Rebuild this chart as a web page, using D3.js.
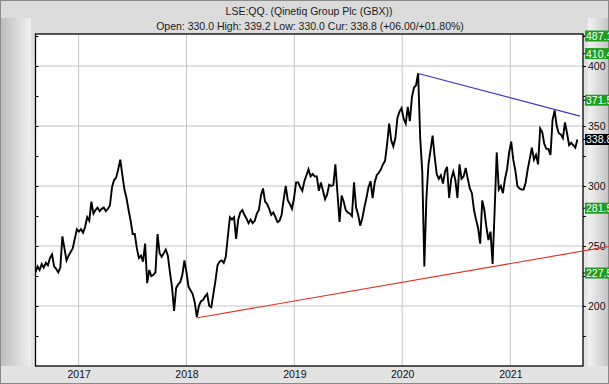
<!DOCTYPE html>
<html>
<head>
<meta charset="utf-8">
<script src="https://cdn.jsdelivr.net/npm/d3@7"></script>
<style>
body { margin: 0; background: #fff; }
svg { display: block; font-family: "Liberation Sans", Arial, sans-serif; }
</style>
</head>
<body>
<svg id="chart" width="609" height="384"></svg>
<script>
// weekly prices (GBX), first week starting 2016-08-08
var firstWeek = "2016-08-08";
var prices = [
	228, 233, 230, 235, 232, 236, 234, 240, 243, 233, 231, 228, 232, 258, 248, 238, 242, 245, 248, 256,
	264, 262, 264, 261, 266, 274, 271, 287, 277, 280, 282, 279, 281, 282, 279, 281, 284, 299, 305, 307,
	314, 322, 309, 297, 290, 280, 271, 260, 260, 248, 240, 242, 237, 252, 219, 230, 225, 226, 228, 260,
	244, 241, 244, 247, 242, 228, 216, 196, 215, 218, 220, 226, 238, 228, 216, 213, 210, 203, 191, 200,
	204, 205, 208, 210, 200, 199, 210, 221, 234, 237, 238, 236, 241, 258, 274, 272, 274, 256, 272, 278,
	280, 276, 273, 269, 272, 269, 271, 277, 280, 292, 298, 287, 285, 281, 276, 278, 274, 270, 271, 276,
	289, 300, 288, 285, 281, 290, 303, 303, 299, 296, 304, 309, 314, 308, 310, 308, 308, 296, 303, 296,
	289, 293, 301, 300, 301, 318, 294, 270, 292, 287, 280, 278, 277, 275, 303, 282, 276, 267, 273, 282,
	290, 299, 304, 290, 303, 309, 311, 314, 318, 321, 335, 352, 338, 333, 340, 357, 362, 365, 356, 352,
	366, 354, 374, 382, 384, 394, 340, 312, 233, 290, 318, 330, 342, 324, 310, 306, 309, 302, 312, 316,
	290, 306, 312, 305, 290, 318, 306, 308, 315, 306, 298, 294, 280, 272, 265, 252, 288, 280, 266, 255,
	262, 235, 280, 328, 297, 300, 294, 306, 314, 328, 337, 322, 313, 300, 298, 297, 297, 303, 314, 323,
	332, 322, 326, 318, 348, 345, 335, 331, 331, 326, 355, 363, 350, 344, 343, 340, 353, 344, 334, 336,
	334, 332, 338.8
];

var xStart = "2016-08-08";
var xEnd = "2021-09-04";
var yearLabels = ["2017", "2018", "2019", "2020", "2021"];
var gridValues = [200, 250, 300, 350, 400];
var minorValues = [175, 200, 225, 250, 275, 300, 325, 350, 375, 400, 425];

// resistance (blue) and support (red) trend lines
var blueDates = ["2020-02-21", "2021-08-25"];
var blueValues = [394, 358.3];
var redDates = ["2018-02-03", "2021-12-01"];
var redValues = [190, 249.6];

// price markers on the right edge
var markerText = ["487.1", "410.4", "371.5", "338.8", "281.5", "227.5"];
var markerValues = [487.1, 410.4, 371.5, 338.8, 281.5, 227.5];
var markerFill = ["#1e9e1e", "#1e9e1e", "#1e9e1e", "#000000", "#1e9e1e", "#1e9e1e"];

var titleText = "LSE:QQ. (Qinetiq Group Plc (GBX))";
var infoText = "Open: 330.0 High: 339.2 Low: 330.0 Cur: 338.8 (+06.00/+01.80%)";

var W = 609, H = 384;
var plot = {left: 35.5, right: 583, top: 34, bottom: 366};
var parse = d3.utcParse("%Y-%m-%d");

var x = d3.scaleUtc()
	.domain([parse(xStart), parse(xEnd)])
	.range([plot.left, plot.right]);
var y = d3.scaleLinear()
	.domain([150, 426.7])
	.range([plot.bottom, plot.top]);

var svg = d3.select("#chart");
var defs = svg.append("defs");

function gradient(id, x1, y1, x2, y2, stops) {
	var g = defs.append("linearGradient").attr("id", id)
		.attr("x1", x1).attr("y1", y1).attr("x2", x2).attr("y2", y2);
	stops.forEach(function (s) {
		g.append("stop").attr("offset", s[0]).attr("stop-color", s[1]);
	});
}
gradient("bgV", 0, 0, 0, 1, [[0, "#dadada"], [0.5, "#e9e9e9"], [1, "#e2e2e2"]]);
gradient("bgL", 0, 0, 1, 0, [[0, "#bdbdbd"], [1, "#f0f0f0"]]);
gradient("bgR", 0, 0, 1, 0, [[0, "#f2f2f2"], [1, "#c6c6c6"]]);

// frame
svg.append("rect").attr("width", W).attr("height", H).attr("fill", "#8a8a8a");
svg.append("rect").attr("x", 1).attr("y", 1).attr("width", W - 2).attr("height", H - 2).attr("fill", "url(#bgV)");
svg.append("rect").attr("x", 1).attr("y", 18).attr("width", 30).attr("height", H - 36).attr("fill", "url(#bgL)");
svg.append("rect").attr("x", 588).attr("y", 18).attr("width", 20).attr("height", H - 36).attr("fill", "url(#bgR)");

// titles
svg.append("text").attr("x", 309).attr("y", 15).attr("text-anchor", "middle")
	.attr("font-size", 10.5).attr("fill", "#1a1a1a").text(titleText);
svg.append("text").attr("x", 310).attr("y", 30).attr("text-anchor", "middle")
	.attr("font-size", 10.5).attr("fill", "#1a1a1a").text(infoText);

// plot background
svg.append("rect")
	.attr("x", plot.left).attr("y", plot.top)
	.attr("width", plot.right - plot.left).attr("height", plot.bottom - plot.top)
	.attr("fill", "#fff");

var years = yearLabels.map(function (s) { return parse(s + "-01-01"); });

// grid
svg.append("g").selectAll("line").data(years).enter().append("line")
	.attr("x1", function (d) { return x(d); }).attr("x2", function (d) { return x(d); })
	.attr("y1", plot.top).attr("y2", plot.bottom)
	.attr("stroke", "#c4c4c4").attr("stroke-width", 1);
svg.append("g").selectAll("line").data(gridValues).enter().append("line")
	.attr("x1", plot.left).attr("x2", plot.right)
	.attr("y1", function (d) { return y(d); }).attr("y2", function (d) { return y(d); })
	.attr("stroke", "#c4c4c4").attr("stroke-width", 1);

// price line
var clip = defs.append("clipPath").attr("id", "plotClip");
clip.append("rect").attr("x", plot.left).attr("y", plot.top)
	.attr("width", plot.right - plot.left).attr("height", plot.bottom - plot.top);

var t0 = parse(firstWeek);
var series = prices.map(function (v, i) {
	return {date: d3.utcWeek.offset(t0, i), value: v};
});
var line = d3.line()
	.x(function (d) { return x(d.date); })
	.y(function (d) { return y(d.value); });
svg.append("path")
	.datum(series)
	.attr("clip-path", "url(#plotClip)")
	.attr("fill", "none")
	.attr("stroke", "#000")
	.attr("stroke-width", 1.9)
	.attr("stroke-linejoin", "miter")
	.attr("d", line);

function trend(dates, values, color) {
	var pts = dates.map(function (d, i) { return {date: parse(d), value: values[i]}; });
	svg.append("path").datum(pts)
		.attr("fill", "none").attr("stroke", color).attr("stroke-width", 1.2)
		.attr("d", line);
}

// axes
var rightAxis = d3.axisRight(y).tickValues(minorValues).tickSize(3)
	.tickFormat(function (d) { return d % 50 === 0 ? d : ""; });
var ra = svg.append("g").attr("transform", "translate(" + plot.right + ",0)").call(rightAxis);
ra.select(".domain").remove();
ra.selectAll("text").attr("font-size", 10.5).attr("fill", "#111").attr("x", 5)
	.style("font-family", "'Liberation Sans', Arial, sans-serif");

var leftAxis = d3.axisRight(y).tickValues(minorValues).tickSize(3).tickFormat("");
var la = svg.append("g").attr("transform", "translate(" + plot.left + ",0)").call(leftAxis);
la.select(".domain").remove();

var bottomAxis = d3.axisBottom(x).tickValues(years).tickSize(0)
	.tickFormat(d3.utcFormat("%Y"));
var ba = svg.append("g").attr("transform", "translate(0," + plot.bottom + ")").call(bottomAxis);
ba.select(".domain").remove();
ba.selectAll("text").attr("font-size", 10.5).attr("fill", "#111").attr("dy", 0).attr("y", 12)
	.style("font-family", "'Liberation Sans', Arial, sans-serif");

// border
svg.append("rect")
	.attr("x", plot.left).attr("y", plot.top)
	.attr("width", plot.right - plot.left).attr("height", plot.bottom - plot.top)
	.attr("fill", "none").attr("stroke", "#000").attr("stroke-width", 1.3);

trend(blueDates, blueValues, "#3a3ad0");
trend(redDates, redValues, "#e0321e");

// right-edge markers
var mk = svg.append("g").selectAll("g").data(markerValues).enter().append("g")
	.attr("transform", function (d) {
		var cy = Math.max(y(d), plot.top + 2);
		return "translate(0," + cy + ")";
	});
mk.append("line").attr("x1", plot.right).attr("x2", plot.right + 4)
	.attr("stroke", "#000");
mk.append("rect").attr("x", plot.right + 2).attr("y", -5.5).attr("width", 30).attr("height", 11)
	.attr("fill", function (d, i) { return markerFill[i]; });
mk.append("text").attr("x", plot.right + 3).attr("y", 4)
	.attr("font-size", 10.5).attr("fill", "#fff")
	.text(function (d, i) { return markerText[i]; });
</script>
</body>
</html>
